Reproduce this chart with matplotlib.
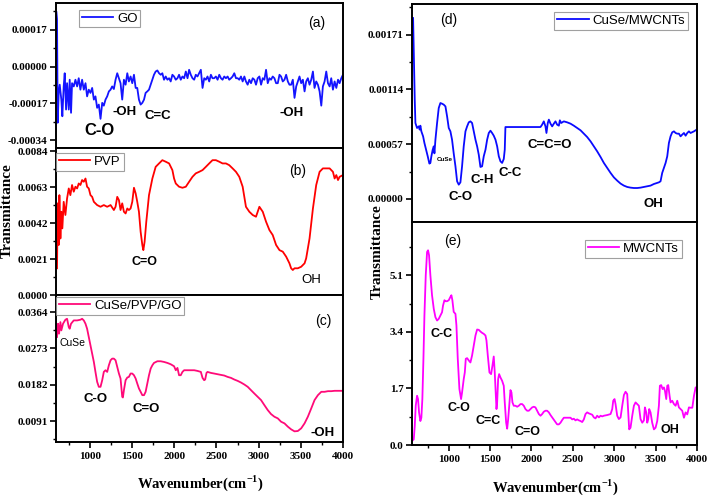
import numpy as np
import matplotlib
matplotlib.use("Agg")
import matplotlib.pyplot as plt
from matplotlib.ticker import MultipleLocator, FormatStrFormatter, FixedLocator

plt.rcParams["font.family"] = ["Liberation Serif", "DejaVu Serif"]
plt.rcParams["font.weight"] = "bold"
plt.rcParams["axes.unicode_minus"] = False
plt.rcParams["mathtext.fontset"] = "custom"
plt.rcParams["mathtext.rm"] = "Liberation Serif:bold"
plt.rcParams["mathtext.bf"] = "Liberation Serif:bold"

# ── (a) GO, transmittance x1e-5 ──
go_wn = [605, 612, 620, 632, 644, 663, 675, 691, 703, 719, 731, 751, 762, 778, 790, 810, 830, 850,
         869, 889, 909, 929, 949, 968, 988, 1008, 1028, 1048, 1067, 1087, 1107, 1127, 1147, 1166,
         1186, 1206, 1226, 1246, 1265, 1285, 1305, 1325, 1345, 1364, 1384, 1404, 1424, 1444, 1463,
         1483, 1503, 1523, 1543, 1562, 1582, 1602, 1622, 1642, 1661, 1681, 1701, 1721, 1741, 1760,
         1780, 1800, 1820, 1840, 1859, 1879, 1899, 1919, 1939, 1958, 1978, 1998, 2018, 2038, 2057,
         2077, 2097, 2117, 2137, 2157, 2176, 2196, 2216, 2236, 2255, 2275, 2295, 2315, 2335, 2355,
         2374, 2394, 2414, 2434, 2453, 2473, 2493, 2513, 2533, 2553, 2572, 2592, 2612, 2632, 2651,
         2672, 2691, 2711, 2731, 2751, 2770, 2790, 2810, 2830, 2849, 2869, 2889, 2909, 2929, 2949,
         2968, 2988, 3008, 3028, 3048, 3067, 3087, 3107, 3127, 3146, 3166, 3186, 3206, 3226, 3246,
         3265, 3285, 3305, 3325, 3345, 3364, 3384, 3404, 3424, 3444, 3463, 3483, 3503, 3523, 3543,
         3562, 3582, 3602, 3622, 3642, 3661, 3681, 3701, 3721, 3741, 3760, 3780, 3800, 3820, 3840,
         3859, 3879, 3899, 3919, 3939, 3958, 3978, 3998]
go_t = [25.2, 22, -26.0, -12, -8.4, -15.3, -23.0, -9.2, -3.1, -19.9, -7.7, -19.9, -6.1, -21.4, -7.7,
        -9.2, -6.1, -9.2, -5.4, -10.7, -6.1, -10.7, -7.7, -13.8, -10.7, -12.2, -9.9, -15.3, -13.8,
        -19.1, -17.6, -24.2, -16.8, -18.1, -15.3, -13.8, -11.5, -10.7, -9.2, -10.4, -6.1, -3.1, -5.4,
        -7.7, -15.3, -6.1, -8.4, -3.1, -6.9, -4.6, -7.7, -3.8, -9.9, -9.9, -15.3, -17.6, -16.8, -15.3,
        -12.2, -11.5, -10.7, -8.4, -6.1, -3.8, -2.3, -1.8, -3.1, -3.8, -3.1, -6.1, -4.6, -6.1, -5.4,
        -6.9, -3.8, -4.6, -6.1, -5.4, -3.8, -6.1, -4.6, -5.4, -2.3, -5.4, -1.5, -3.8, -5.4, -6.1,
        -3.8, -4.6, -3.1, -1.5, -9.9, -5.4, -6.1, -4.6, -6.9, -3.8, -5.4, -5.4, -4.6, -6.1, -3.8,
        -5.4, -6.1, -4.6, -5.4, -4.6, -6.1, -5.4, -4.6, -3.1, -5.4, -5.4, -6.1, -4.6, -6.9, -4.6,
        -6.9, -8.4, -6.1, -7.7, -5.4, -6.1, -8.4, -5.4, -4.6, -8.4, -5.4, -6.1, -1.5, -7.7, -5.4,
        -6.1, -4.6, -5.4, -7.7, -7.7, -3.8, -4.6, -6.9, -6.1, -3.8, -6.9, -8.4, -8.4, -6.1, -14.5,
        -9.2, -6.9, -4.6, -7.7, -6.1, -11.5, -6.9, -5.4, -8.4, -6.1, -2.3, -9.9, -6.9, -8.4, -11.5,
        -18.1, -9.2, -6.9, -2.3, -7.7, -9.2, -5.4, -10.7, -6.9, -9.9, -6.1, -7.7, -5.4, -3.8]

# ── (b) PVP, transmittance x1e-4 ──
pvp_wn = [612, 620, 632, 640, 652, 663, 675, 691, 711, 731, 751, 770, 790, 810, 830, 850, 869, 889,
          909, 929, 949, 968, 988, 1008, 1028, 1048, 1087, 1127, 1166, 1206, 1246, 1285, 1305, 1325,
          1345, 1364, 1384, 1404, 1424, 1444, 1463, 1483, 1503, 1523, 1543, 1562, 1582, 1602, 1622,
          1634, 1649, 1669, 1701, 1741, 1780, 1820, 1859, 1899, 1939, 1978, 1998, 2018, 2057, 2097,
          2137, 2176, 2216, 2255, 2295, 2335, 2374, 2414, 2453, 2493, 2533, 2572, 2612, 2651, 2691,
          2731, 2770, 2810, 2849, 2889, 2929, 2968, 3008, 3048, 3087, 3127, 3166, 3206, 3246, 3285,
          3325, 3364, 3384, 3404, 3424, 3463, 3503, 3543, 3562, 3602, 3642, 3681, 3721, 3760, 3800,
          3840, 3879, 3899, 3919, 3939, 3958, 3998]
pvp_t = [15.6, 53.5, 29.2, 58.3, 33.0, 48.6, 38.9, 54.4, 46.7, 56.4, 62.2, 58.3, 64.2, 60.3, 63.2,
         62.2, 65.1, 64.2, 67.1, 66.1, 68.0, 63.2, 62.2, 58.3, 57.3, 54.4, 52.5, 51.5, 52.5, 51.5,
         52.5, 49.6, 51.5, 57.3, 55.4, 49.6, 53.5, 48.6, 47.6, 50.5, 49.6, 50.5, 54.4, 62.6, 59.3,
         54.4, 48.6, 36.9, 29.2, 26.2, 31.1, 42.8, 58.3, 68.0, 74.8, 76.8, 78.7, 77.8, 76.8, 72.9,
         68.0, 65.1, 63.2, 62.6, 63.2, 66.1, 69.0, 71.0, 71.9, 72.9, 74.8, 76.8, 78.7, 78.7, 77.8,
         76.8, 76.8, 75.8, 73.9, 71.9, 69.0, 63.2, 51.5, 48.6, 46.7, 45.7, 51.5, 48.6, 42.8, 37.9,
         35.0, 29.2, 26.2, 25.3, 22.4, 18.5, 15.6, 14.6, 15.6, 15.6, 16.5, 18.5, 21.4, 33.0, 50.5,
         64.2, 71.9, 73.9, 73.9, 73.9, 71.9, 68.0, 70.0, 67.1, 69.0, 70.0]

# ── (c) CuSe/PVP/GO, transmittance x1e-4 ──
cpg_wn = [612, 624, 636, 652, 663, 683, 711, 731, 751, 762, 778, 810, 850, 889, 909, 929, 949, 968,
          988, 1008, 1028, 1048, 1067, 1087, 1107, 1127, 1147, 1166, 1186, 1206, 1226, 1246, 1265,
          1285, 1305, 1325, 1345, 1364, 1384, 1392, 1404, 1424, 1444, 1463, 1483, 1503, 1523, 1543,
          1562, 1582, 1602, 1622, 1642, 1661, 1681, 1701, 1721, 1741, 1760, 1800, 1840, 1879, 1919,
          1958, 1998, 2018, 2038, 2057, 2077, 2097, 2117, 2156, 2196, 2236, 2275, 2315, 2335, 2354,
          2366, 2382, 2394, 2434, 2473, 2513, 2553, 2592, 2632, 2672, 2711, 2751, 2790, 2830, 2870,
          2909, 2948, 2988, 3028, 3067, 3107, 3146, 3186, 3226, 3265, 3305, 3345, 3384, 3424, 3463,
          3503, 3543, 3582, 3622, 3661, 3701, 3741, 3780, 3820, 3859, 3899, 3939, 3998]
cpg_t = [301.6, 334.9, 309.9, 339.0, 318.2, 334.9, 344.9, 347.3, 326.5, 322.4, 334.9, 343.2, 343.2,
         344.9, 347.3, 343.2, 334.9, 322.4, 301.6, 280.7, 259.9, 239.1, 214.1, 189.2, 176.7, 176.7,
         193.3, 214.1, 218.3, 214.1, 230.8, 243.3, 247.4, 247.4, 243.3, 226.6, 210.0, 197.5, 151.7,
         150.0, 168.3, 193.3, 200.0, 201.6, 210.0, 210.0, 205.8, 197.5, 185.0, 172.5, 164.2, 155.8,
         155.8, 164.2, 185.0, 205.8, 222.5, 230.8, 236.6, 240.8, 240.8, 239.1, 236.6, 233.3, 228.3,
         218.3, 224.1, 205.8, 205.8, 214.1, 218.3, 218.3, 218.3, 218.3, 216.6, 214.1, 199.1, 193.3,
         195.0, 211.6, 214.1, 211.6, 210.0, 208.3, 206.6, 205.0, 201.6, 199.1, 195.0, 191.6, 187.5,
         182.5, 176.7, 168.3, 160.0, 151.7, 143.4, 130.9, 118.4, 108.4, 101.7, 97.6, 89.2, 85.1,
         76.8, 70.1, 65.1, 65.9, 72.6, 85.1, 101.7, 122.5, 143.4, 155.8, 164.2, 164.2, 165.8, 165.8,
         166.7, 166.7, 166.7]

# ── (d) CuSe/MWCNTs, transmittance x1e-5 ──
cm_wn = [569, 577, 589, 597, 617, 637, 649, 657, 669, 690, 706, 726, 746, 766, 778, 790, 806, 819,
         827, 839, 859, 879, 899, 919, 940, 960, 980, 1000, 1020, 1040, 1060, 1081, 1101, 1121, 1141,
         1161, 1181, 1202, 1222, 1242, 1262, 1282, 1302, 1323, 1343, 1363, 1383, 1403, 1423, 1444,
         1464, 1484, 1504, 1524, 1544, 1565, 1585, 1605, 1625, 1645, 1665, 1677, 1685, 1706, 2109,
         2129, 2149, 2169, 2181, 2197, 2210, 2230, 2250, 2270, 2290, 2310, 2331, 2343, 2359, 2391,
         2431, 2472, 2512, 2552, 2593, 2633, 2673, 2714, 2754, 2794, 2835, 2875, 2915, 2956, 2996,
         3036, 3077, 3117, 3157, 3197, 3238, 3278, 3318, 3359, 3399, 3439, 3480, 3520, 3540, 3560,
         3580, 3601, 3621, 3641, 3661, 3681, 3701, 3722, 3742, 3762, 3782, 3802, 3822, 3843, 3863,
         3883, 3903, 3923, 3964, 3996]
cm_t = [188.4, 155.4, 103.4, 79.1, 73.9, 75.6, 72.2, 76.3, 70.4, 65.2, 58.3, 51.3, 44.4, 36.8, 37.5,
        44.4, 51.3, 54.8, 47.5, 61.7, 79.1, 94.7, 99.9, 99.2, 98.2, 96.4, 86.0, 73.9, 70.4, 61.7,
        47.5, 34.0, 18.4, 14.9, 17.3, 34.0, 54.8, 70.4, 75.6, 79.8, 80.8, 79.1, 70.4, 61.7, 54.8,
        46.0, 33.3, 34.0, 44.4, 51.3, 61.7, 68.7, 71.1, 68.7, 65.9, 61.7, 54.8, 44.4, 39.2, 37.5,
        41.6, 51.3, 74.9, 74.9, 74.9, 77.4, 80.8, 75.6, 68.7, 79.1, 82.6, 78.4, 75.6, 78.4, 80.8,
        77.4, 76.3, 81.9, 79.1, 80.8, 79.8, 78.4, 76.3, 73.9, 71.5, 68.0, 64.5, 60.0, 54.8, 49.6,
        43.7, 37.5, 32.3, 27.1, 22.5, 19.1, 16.0, 13.9, 12.5, 11.8, 11.4, 11.4, 11.8, 12.5, 13.2,
        13.9, 15.6, 16.7, 17.3, 18.4, 27.1, 32.3, 37.5, 44.4, 58.3, 65.2, 69.4, 70.4, 68.7, 68.0,
        68.0, 65.2, 67.0, 68.7, 65.9, 68.7, 70.4, 68.7, 70.4, 72.2]

# ── (e) MWCNTs ──
mw_wn = [556, 577, 589, 601, 617, 629, 641, 657, 669, 681, 694, 706, 722, 738, 750, 762, 778, 798,
         819, 839, 859, 879, 899, 919, 931, 948, 960, 980, 1000, 1020, 1032, 1044, 1060, 1081, 1093,
         1109, 1129, 1149, 1161, 1181, 1194, 1206, 1222, 1242, 1262, 1282, 1302, 1323, 1343, 1363,
         1383, 1403, 1423, 1444, 1456, 1472, 1492, 1512, 1528, 1544, 1556, 1569, 1577, 1585, 1597,
         1609, 1625, 1645, 1665, 1677, 1694, 1706, 1718, 1734, 1746, 1758, 1770, 1786, 1806, 1827,
         1847, 1867, 1887, 1907, 1927, 1948, 1968, 1988, 2008, 2028, 2048, 2068, 2089, 2109, 2129,
         2149, 2169, 2189, 2210, 2230, 2250, 2270, 2290, 2310, 2331, 2351, 2371, 2391, 2431, 2472,
         2492, 2512, 2532, 2552, 2573, 2593, 2613, 2633, 2653, 2673, 2694, 2714, 2734, 2754, 2774,
         2794, 2815, 2835, 2855, 2875, 2915, 2956, 2976, 2988, 3004, 3016, 3036, 3056, 3077, 3097,
         3117, 3137, 3157, 3169, 3181, 3197, 3218, 3238, 3258, 3278, 3298, 3318, 3339, 3359, 3371,
         3387, 3399, 3411, 3423, 3439, 3459, 3480, 3500, 3520, 3540, 3552, 3568, 3585, 3601, 3613,
         3629, 3641, 3653, 3669, 3681, 3701, 3722, 3742, 3762, 3782, 3802, 3822, 3843, 3863, 3883,
         3903, 3923, 3944, 3964, 3984, 3996]
mw_t = [0.12, 0.17, 0.57, 1.18, 1.48, 1.38, 0.98, 0.72, 0.82, 1.38, 2.59, 3.89, 5.10, 5.80, 5.85,
        5.70, 5.10, 4.50, 4.09, 3.84, 3.74, 3.79, 3.89, 3.99, 4.19, 4.35, 4.32, 4.32, 4.35, 4.45,
        4.50, 4.35, 4.00, 3.94, 3.59, 2.59, 1.68, 1.38, 1.58, 1.98, 2.18, 2.59, 2.61, 2.54, 2.48,
        2.69, 2.99, 3.29, 3.47, 3.46, 3.41, 3.37, 3.34, 3.29, 3.14, 2.69, 2.18, 2.13, 2.38, 2.66,
        2.18, 1.48, 1.08, 1.28, 1.98, 2.13, 2.03, 1.93, 1.78, 1.28, 0.67, 0.49, 0.77, 1.28, 1.65,
        1.58, 1.28, 1.18, 1.18, 1.15, 1.18, 1.23, 1.23, 1.18, 1.08, 1.03, 1.03, 1.08, 1.13, 1.15,
        1.13, 1.03, 0.93, 0.88, 0.93, 1.00, 1.03, 1.03, 0.98, 0.90, 0.83, 0.76, 0.69, 0.62, 0.62,
        0.67, 0.75, 0.82, 0.82, 0.82, 0.77, 0.79, 0.74, 0.77, 0.74, 0.72, 0.69, 0.77, 0.93, 0.98,
        0.95, 0.93, 0.91, 0.83, 0.80, 0.88, 0.83, 0.88, 0.86, 0.88, 0.90, 0.93, 1.08, 1.33, 1.38,
        1.23, 0.88, 0.78, 0.83, 1.18, 1.50, 1.60, 1.53, 0.98, 0.47, 0.52, 0.88, 1.18, 1.28, 1.23,
        1.18, 0.78, 0.67, 0.74, 1.13, 0.98, 0.67, 0.77, 1.08, 0.98, 0.67, 0.47, 0.52, 0.72, 1.18,
        1.78, 1.80, 1.68, 1.73, 1.63, 1.38, 1.78, 1.80, 1.48, 1.28, 1.33, 1.23, 1.18, 1.33, 1.13,
        1.08, 1.03, 0.82, 0.98, 0.92, 1.13, 1.12, 1.12, 1.48, 1.73, 1.73]

fig = plt.figure(figsize=(7.09, 4.96), dpi=100)

ax_a = fig.add_axes([0.079, 0.7016, 0.405, 0.2923])
ax_b = fig.add_axes([0.079, 0.4052, 0.405, 0.2964])
ax_c = fig.add_axes([0.079, 0.1089, 0.405, 0.2964])
ax_d = fig.add_axes([0.581, 0.5524, 0.402, 0.4395])
ax_e = fig.add_axes([0.581, 0.1028, 0.402, 0.4496])

ax_a.plot(go_wn, np.array(go_t) * 1e-5, color="#1414ff", lw=1.3, label="GO")
ax_b.plot(pvp_wn, np.array(pvp_t) * 1e-4, color="#ff0000", lw=1.3, label="PVP")
ax_c.plot(cpg_wn, np.array(cpg_t) * 1e-4, color="#ff0a78", lw=1.3, label="CuSe/PVP/GO")
ax_d.plot(cm_wn, np.array(cm_t) * 1e-5, color="#0a0aff", lw=1.3, label="CuSe/MWCNTs")
ax_e.plot(mw_wn, mw_t, color="#ff00ff", lw=1.3, label="MWCNTs")

# ── 坐标轴 ──
ylims = {ax_a: (-0.000377, 0.000294), ax_b: (0, 0.00858), ax_c: (0.00384, 0.0407),
         ax_d: (-0.00024, 0.00203), ax_e: (0, 6.7)}
yticks = {ax_a: ([-0.00034, -0.00017, 0, 0.00017], "%.5f"),
          ax_b: ([0, 0.0021, 0.0042, 0.0063, 0.0084], "%.4f"),
          ax_c: ([0.0091, 0.0182, 0.0273, 0.0364], "%.4f"),
          ax_d: ([0, 0.00057, 0.00114, 0.00171], "%.5f"),
          ax_e: ([0, 1.7, 3.4, 5.1], "%.1f")}

for ax in [ax_a, ax_b, ax_c, ax_d, ax_e]:
    left = ax in (ax_a, ax_b, ax_c)
    ax.set_xlim(600 if left else 555, 4000)
    ax.set_ylim(*ylims[ax])
    ticks, fmt = yticks[ax]
    ax.yaxis.set_major_locator(FixedLocator(ticks))
    step = ticks[1] - ticks[0]
    ax.yaxis.set_minor_locator(FixedLocator([t + step / 2 for t in [ticks[0] - step] + ticks]))
    ax.yaxis.set_major_formatter(FormatStrFormatter(fmt))
    ax.xaxis.set_major_locator(MultipleLocator(500))
    ax.xaxis.set_minor_locator(MultipleLocator(250))
    for s in ax.spines.values():
        s.set_linewidth(1.4)
    ax.tick_params(which="major", direction="out", length=4, width=1.2, labelsize=8)
    ax.tick_params(which="minor", direction="out", length=2.5, width=1.0)
    ax.tick_params(axis="y", pad=2)
    if ax in (ax_a, ax_b, ax_d):
        ax.tick_params(axis="x", which="both", bottom=False, labelbottom=False)

# ── 图例 ──
for ax, loc, anchor in [(ax_a, "upper left", (0.08, 0.952)), (ax_b, "upper left", (0.0, 0.966)),
                        (ax_c, "upper left", (0.0, 0.986)), (ax_d, "upper right", (0.968, 0.963)),
                        (ax_e, "upper right", (0.947, 0.919))]:
    lg = ax.legend(loc=loc, bbox_to_anchor=anchor, frameon=True, fancybox=False, handlelength=2.4,
                   handletextpad=0.3, borderpad=0.2, borderaxespad=0.0,
                   prop={"family": "Liberation Sans", "size": 9.5, "weight": "normal"})
    lg.get_frame().set_edgecolor("#888888")
    lg.get_frame().set_linewidth(0.8)

# ── 标注 ──
sans = dict(family="Liberation Sans", weight="bold", ha="center", va="center")
plain = dict(family="Liberation Sans", weight="normal", ha="center", va="center")

ax_a.text(0.909, 0.862, "(a)", transform=ax_a.transAxes, fontsize=10, **plain)
ax_a.text(0.153, 0.124, "C-O", transform=ax_a.transAxes, fontsize=12, **sans)
ax_a.text(0.240, 0.248, "-OH", transform=ax_a.transAxes, fontsize=9.5, **sans)
ax_a.text(0.355, 0.221, "C=C", transform=ax_a.transAxes, fontsize=9.5, **sans)
ax_a.text(0.819, 0.241, "-OH", transform=ax_a.transAxes, fontsize=9.5, **sans)

ax_b.text(0.840, 0.844, "(b)", transform=ax_b.transAxes, fontsize=10, **plain)
ax_b.text(0.307, 0.224, "C=O", transform=ax_b.transAxes, fontsize=9, **sans)
ax_b.text(0.889, 0.102, "OH", transform=ax_b.transAxes, fontsize=9.5, **plain)

ax_c.text(0.930, 0.823, "(c)", transform=ax_c.transAxes, fontsize=10, **plain)
ax_c.text(0.056, 0.673, "CuSe", transform=ax_c.transAxes, fontsize=7.5, **plain)
ax_c.text(0.136, 0.293, "C-O", transform=ax_c.transAxes, fontsize=9.5, **sans)
ax_c.text(0.314, 0.224, "C=O", transform=ax_c.transAxes, fontsize=9.5, **sans)
ax_c.text(0.930, 0.061, "-OH", transform=ax_c.transAxes, fontsize=9.5, **sans)

ax_d.text(0.130, 0.927, "(d)", transform=ax_d.transAxes, fontsize=10, **plain)
ax_d.text(0.116, 0.289, "CuSe", transform=ax_d.transAxes, fontsize=4.5, **sans)
ax_d.text(0.172, 0.115, "C-O", transform=ax_d.transAxes, fontsize=9.5, **sans)
ax_d.text(0.246, 0.193, "C-H", transform=ax_d.transAxes, fontsize=9.5, **sans)
ax_d.text(0.344, 0.225, "C-C", transform=ax_d.transAxes, fontsize=9.5, **sans)
ax_d.text(0.484, 0.353, "C=C=O", transform=ax_d.transAxes, fontsize=9.5, **sans)
ax_d.text(0.846, 0.083, "OH", transform=ax_d.transAxes, fontsize=9.5, **sans)

ax_e.text(0.144, 0.915, "(e)", transform=ax_e.transAxes, fontsize=10, **plain)
ax_e.text(0.105, 0.498, "C-C", transform=ax_e.transAxes, fontsize=9, **sans)
ax_e.text(0.165, 0.166, "C-O", transform=ax_e.transAxes, fontsize=9, **sans)
ax_e.text(0.267, 0.108, "C=C", transform=ax_e.transAxes, fontsize=9, **sans)
ax_e.text(0.404, 0.058, "C=O", transform=ax_e.transAxes, fontsize=9, **sans)
ax_e.text(0.905, 0.067, "OH", transform=ax_e.transAxes, fontsize=9, **sans)

# ── 轴标题 ──
fig.text(0.010, 0.575, "Transmittance", rotation=90, ha="center", va="center", fontsize=11, weight="bold")
fig.text(0.532, 0.492, "Transmittance", rotation=90, ha="center", va="center", fontsize=11, weight="bold")
fig.text(0.282, 0.026, r"Wavenumber(cm$^{-1}$)", ha="center", va="center", fontsize=10.5, weight="bold")
fig.text(0.783, 0.018, r"Wavenumber(cm$^{-1}$)", ha="center", va="center", fontsize=10.5, weight="bold")

fig.savefig("out.png", dpi=100)
